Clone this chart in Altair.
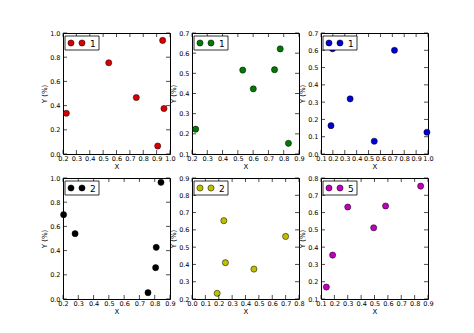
import altair as alt
import pandas as pd

# ---- data ----
p1_x = [0.225, 0.542, 0.748, 0.945, 0.955, 0.908]
p1_y = [0.337, 0.754, 0.467, 0.939, 0.376, 0.066]
p2_x = [0.224, 0.532, 0.601, 0.740, 0.777, 0.831]
p2_y = [0.223, 0.516, 0.423, 0.518, 0.621, 0.153]
p3_x = [0.197, 0.184, 0.345, 0.548, 0.718, 0.991]
p3_y = [0.609, 0.164, 0.319, 0.074, 0.600, 0.126]
p4_x = [0.204, 0.279, 0.756, 0.806, 0.810, 0.841]
p4_y = [0.697, 0.540, 0.052, 0.259, 0.427, 0.964]
p5_x = [0.188, 0.238, 0.250, 0.463, 0.700]
p5_y = [0.233, 0.653, 0.410, 0.373, 0.562]
p6_x = [0.140, 0.187, 0.300, 0.494, 0.583, 0.845]
p6_y = [0.169, 0.354, 0.632, 0.512, 0.638, 0.753]

labels = ["1", "1", "1", "2", "2", "5"]
colors = ["#d80000", "#007a00", "#0000d8", "#000000", "#bfbf00", "#bf00bf"]

x_ticks = [
    [0.2, 0.3, 0.4, 0.5, 0.6, 0.7, 0.8, 0.9, 1.0],
    [0.2, 0.3, 0.4, 0.5, 0.6, 0.7, 0.8, 0.9],
    [0.1, 0.2, 0.3, 0.4, 0.5, 0.6, 0.7, 0.8, 0.9, 1.0],
    [0.2, 0.3, 0.4, 0.5, 0.6, 0.7, 0.8, 0.9],
    [0.0, 0.1, 0.2, 0.3, 0.4, 0.5, 0.6, 0.7, 0.8],
    [0.1, 0.2, 0.3, 0.4, 0.5, 0.6, 0.7, 0.8, 0.9],
]
y_ticks = [
    [0.0, 0.2, 0.4, 0.6, 0.8, 1.0],
    [0.1, 0.2, 0.3, 0.4, 0.5, 0.6, 0.7],
    [0.0, 0.1, 0.2, 0.3, 0.4, 0.5, 0.6, 0.7],
    [0.0, 0.2, 0.4, 0.6, 0.8, 1.0],
    [0.2, 0.3, 0.4, 0.5, 0.6, 0.7, 0.8, 0.9],
    [0.1, 0.2, 0.3, 0.4, 0.5, 0.6, 0.7, 0.8],
]

xs_all = [p1_x, p2_x, p3_x, p4_x, p5_x, p6_x]
ys_all = [p1_y, p2_y, p3_y, p4_y, p5_y, p6_y]

W, H = 107, 121
TICK = 4
FONT = "DejaVu Sans"


def panel(xs, ys, color, label, xt, yt):
    df = pd.DataFrame({"x": xs, "y": ys})
    xscale = alt.Scale(domain=[xt[0], xt[-1]], nice=False, zero=False)
    yscale = alt.Scale(domain=[yt[0], yt[-1]], nice=False, zero=False)
    xaxis = alt.Axis(values=xt, format=".1f", ticks=False, domain=False, grid=False,
                     labelFontSize=6.5, labelPadding=1, labelFlush=False, labelOverlap=False,
                     title="X", titleFontSize=7, titlePadding=1)
    yaxis = alt.Axis(values=yt, format=".1f", ticks=False, domain=False, grid=False,
                     labelFontSize=6.5, labelPadding=3, labelFlush=False, labelOverlap=False,
                     title="Y (%)", titleFontSize=7, titlePadding=2)
    xenc = alt.X("x:Q", scale=xscale, axis=xaxis, title="X")
    yenc = alt.Y("y:Q", scale=yscale, axis=yaxis, title="Y (%)")

    pts = alt.Chart(df).mark_circle(size=38, opacity=1, fill=color, stroke="black",
                                     strokeWidth=0.5).encode(x=xenc, y=yenc)

    xtdf = pd.DataFrame({"x": xt})
    ytdf = pd.DataFrame({"y": yt})
    tb = alt.Chart(xtdf).mark_rule(color="black", strokeWidth=0.7).encode(
        x=xenc, y=alt.value(H), y2=alt.value(H - TICK))
    tt = alt.Chart(xtdf).mark_rule(color="black", strokeWidth=0.7).encode(
        x=xenc, y=alt.value(0), y2=alt.value(TICK))
    tl = alt.Chart(ytdf).mark_rule(color="black", strokeWidth=0.7).encode(
        y=yenc, x=alt.value(0), x2=alt.value(TICK))
    tr = alt.Chart(ytdf).mark_rule(color="black", strokeWidth=0.7).encode(
        y=yenc, x=alt.value(W), x2=alt.value(W - TICK))

    ldf = pd.DataFrame({"label": [label]})
    lbox = alt.Chart(ldf).mark_rect(fill="white", stroke="black", strokeWidth=0.8).encode(
        x=alt.value(2), x2=alt.value(36), y=alt.value(3), y2=alt.value(17))
    lp1 = alt.Chart(ldf).mark_circle(size=38, opacity=1, fill=color, stroke="black",
                                      strokeWidth=0.5).encode(x=alt.value(8), y=alt.value(10))
    lp2 = alt.Chart(ldf).mark_circle(size=38, opacity=1, fill=color, stroke="black",
                                      strokeWidth=0.5).encode(x=alt.value(19), y=alt.value(10))
    ltxt = alt.Chart(ldf).mark_text(align="left", baseline="middle", fontSize=9,
                                     font=FONT, color="black").encode(
        x=alt.value(27), y=alt.value(10.5), text="label:N")

    return alt.layer(pts, tb, tt, tl, tr, lbox, lp1, lp2, ltxt).properties(width=W, height=H)


panels = [panel(xs_all[i], ys_all[i], colors[i], labels[i], x_ticks[i], y_ticks[i])
          for i in range(6)]

chart = alt.concat(*panels, columns=3, spacing={"row": 24, "column": 22},
                   bounds="flush").properties(
    padding={"left": 40, "top": 29, "right": 0, "bottom": 0},
    background="white",
).configure_view(stroke="black", strokeWidth=1).configure_axis(
    labelFont=FONT, titleFont=FONT, titleFontWeight="normal", labelColor="black",
    titleColor="black")

chart.save("out.html", embed_options={"renderer": "svg", "actions": False})
